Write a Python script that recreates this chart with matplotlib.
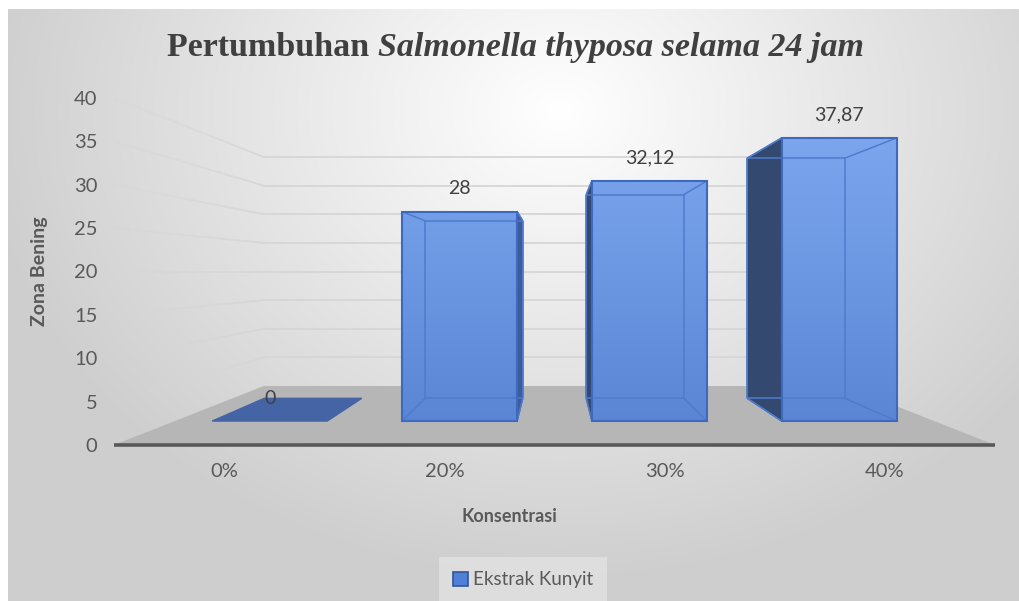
import numpy as np
import matplotlib
matplotlib.use("Agg")
import matplotlib.pyplot as plt
from matplotlib.patches import Polygon, Patch
from matplotlib.collections import LineCollection

# ---------------- data ----------------
categories = ["0%", "20%", "30%", "40%"]
values = [0, 28, 32.12, 37.87]
value_labels = ["0", "28", "32,12", "37,87"]
series_name = "Ekstrak Kunyit"
y_ticks = [0, 5, 10, 15, 20, 25, 30, 35, 40]
title_plain = "Pertumbuhan "
title_italic = "Salmonella thyposa selama 24 jam"
x_label = "Konsentrasi"
y_label = "Zona Bening"

# ---------------- perspective settings ----------------
VX, VY = 1.5, 20.0          # vanishing point in front-plane data coords
S_WALL = 0.34               # depth fraction of back wall
S_FRONT, S_BACK = 0.138, 0.269  # bar front / back depth
HALF_W = 0.303              # half bar width (category units)


def proj(x, y, s):
    return (x + s * (VX - x), y + s * (VY - y))


W, H = 1020, 601
fig = plt.figure(figsize=(W / 100, H / 100), dpi=100)
fig.patch.set_facecolor("white")

# background gradient panel
bg = fig.add_axes([8 / W, 0, 1 - 8 / W, 1 - 9 / H], zorder=-10)
gx, gy = np.meshgrid(np.linspace(8, W, 400), np.linspace(9, H, 240))
t = np.sqrt(((gx - 560) / 580) ** 2 + ((gy - 110) / 470) ** 2)
shade = 1 - 0.19 * np.clip(t, 0, 1)
bg.imshow(np.dstack([shade, shade, shade]), aspect="auto", extent=[0, 1, 0, 1],
          interpolation="bilinear")
bg.set_axis_off()

ax = fig.add_axes([114 / W, (H - 445) / H, 881 / W, 347 / H])
ax.patch.set_visible(False)
ax.set_xlim(-0.5, len(categories) - 0.5)
ax.set_ylim(0, 40)
for sp in ax.spines.values():
    sp.set_visible(False)

txt_col = "#595959"
ax.set_yticks(y_ticks)
ax.set_yticklabels([str(v) for v in y_ticks])
ax.set_xticks(range(len(categories)))
ax.set_xticklabels(categories)
ax.tick_params(axis="both", length=0, labelcolor=txt_col, labelsize=14.5)
ax.tick_params(axis="x", pad=13)
ax.tick_params(axis="y", pad=12)
for lab in ax.get_xticklabels() + ax.get_yticklabels():
    lab.set_fontfamily("Lato")

x0, x1 = -0.5, len(categories) - 0.5

# floor
floor = [proj(x0, 0, 0), proj(x1, 0, 0), proj(x1, 0, S_WALL), proj(x0, 0, S_WALL)]
ax.add_patch(Polygon(floor, closed=True, facecolor="#b6b6b6", edgecolor="none", zorder=1))

# back-wall gridlines and side-wall lines (fading towards the front)
grid_col = np.array([0.84, 0.84, 0.84])
for v in y_ticks[1:]:
    a = proj(x0, v, S_WALL)
    b = proj(x1, v, S_WALL)
    ax.plot([a[0], b[0]], [a[1], b[1]], color=grid_col, lw=1.3, zorder=1.5)
    n = 30
    ss = np.linspace(0, S_WALL, n + 1)
    pts = [proj(x0, v, s) for s in ss]
    segs = [[pts[k], pts[k + 1]] for k in range(n)]
    cols = [(*grid_col, 0.15 + 0.85 * (k / n)) for k in range(n)]
    ax.add_collection(LineCollection(segs, colors=cols, linewidths=1.3, zorder=1.5))

# gradient image used for bar fronts
grad = np.linspace(0, 1, 256)[:, None]
c_bot = np.array([0x58, 0x83, 0xd2]) / 255
c_top = np.array([0x80, 0xab, 0xf2]) / 255
grad_img = c_bot + (c_top - c_bot) * grad[..., None]
grad_img = np.repeat(grad_img, 2, axis=1)

side_col = "#34496f"
thin_side_col = "#3c5c9c"
top_col = "#4464a6"
edge_col = "#3d6ac0"
inner_col = "#4f7bcc"

for i, v in enumerate(values):
    xl, xr = i - HALF_W, i + HALF_W
    F = {k: proj(xx, yy, S_FRONT) for k, (xx, yy) in
         {"bl": (xl, 0), "br": (xr, 0), "tl": (xl, v), "tr": (xr, v)}.items()}
    B = {k: proj(xx, yy, S_BACK) for k, (xx, yy) in
         {"bl": (xl, 0), "br": (xr, 0), "tl": (xl, v), "tr": (xr, v)}.items()}
    if v == 0:
        top = [F["bl"], F["br"], B["br"], B["bl"]]
        ax.add_patch(Polygon(top, closed=True, facecolor=top_col, edgecolor=top_col,
                             lw=1, zorder=3))
        continue
    # side faces
    if xl > VX:
        side = [F["bl"], F["tl"], B["tl"], B["bl"]]
        ax.add_patch(Polygon(side, closed=True, facecolor=side_col, edgecolor=edge_col,
                             lw=1, zorder=3))
    if xr < VX:
        side = [F["br"], F["tr"], B["tr"], B["br"]]
        ax.add_patch(Polygon(side, closed=True, facecolor=thin_side_col, edgecolor=edge_col,
                             lw=1, zorder=3))
    # front face with vertical gradient
    front = [F["bl"], F["br"], F["tr"], F["tl"]]
    fp = Polygon(front, closed=True, facecolor="none", edgecolor="none", zorder=4)
    ax.add_patch(fp)
    im = ax.imshow(grad_img, origin="lower", aspect="auto",
                   extent=[F["bl"][0], F["br"][0], 0, 40], zorder=4, interpolation="bilinear")
    im.set_clip_path(fp)
    # inner (see-through) edges
    inner = [[B["bl"], B["br"]], [B["br"], B["tr"]], [B["tr"], B["tl"]], [B["tl"], B["bl"]],
             [F["bl"], B["bl"]], [F["br"], B["br"]], [F["tl"], B["tl"]], [F["tr"], B["tr"]]]
    ax.add_collection(LineCollection(inner, colors=inner_col, linewidths=1.1, zorder=5))
    ax.add_patch(Polygon(front, closed=True, facecolor="none", edgecolor=edge_col,
                         lw=1.5, zorder=6))

# data labels
for i, v in enumerate(values):
    pos = proj(i, v, S_FRONT)
    ax.annotate(value_labels[i], xy=pos, xytext=(0, 23), textcoords="offset pixels",
                ha="center", va="center", fontsize=14, color="#404040",
                fontfamily="Lato", zorder=7)

# front axis line
ax.plot([x0, x1], [0, 0], color="#595959", lw=2.6, zorder=6, solid_capstyle="butt",
        clip_on=False)

# axis titles
fig.text(509 / W, 1 - 517 / H, x_label, ha="center", va="center", fontsize=13,
         fontweight="bold", color=txt_col, fontfamily="Lato")
fig.text(40 / W, 1 - 271 / H, y_label, ha="center", va="center", fontsize=14,
         fontweight="bold", color=txt_col, fontfamily="Lato", rotation=90)

# title in two parts
tcol = "#404040"
t1 = fig.text(167 / W, 1 - 56 / H, title_plain, ha="left", va="baseline",
              fontsize=24.5, fontweight="bold", color=tcol, fontfamily="Liberation Serif")
renderer = fig.canvas.get_renderer()
bb = t1.get_window_extent(renderer)
fig.text(bb.x1 / W, 1 - 56 / H, title_italic, ha="left", va="baseline",
         fontsize=24.5, fontweight="bold", fontstyle="italic", color=tcol,
         fontfamily="Liberation Serif")

# legend
handle = Patch(facecolor="#4f7fd6", edgecolor="#2f5597", linewidth=1.2)
leg = fig.legend([handle], [series_name], loc="center", bbox_to_anchor=(523 / W, 1 - 580 / H),
                 frameon=True, handlelength=0.8, handleheight=0.8,
                 handletextpad=0.3, borderpad=0.45, prop={"family": "Lato", "size": 13.5})
leg.get_frame().set_facecolor("#e2e2e2")
leg.get_frame().set_edgecolor("none")
leg.get_frame().set_boxstyle("square")
for tx in leg.get_texts():
    tx.set_color(txt_col)

fig.savefig("out.png", dpi=100)
